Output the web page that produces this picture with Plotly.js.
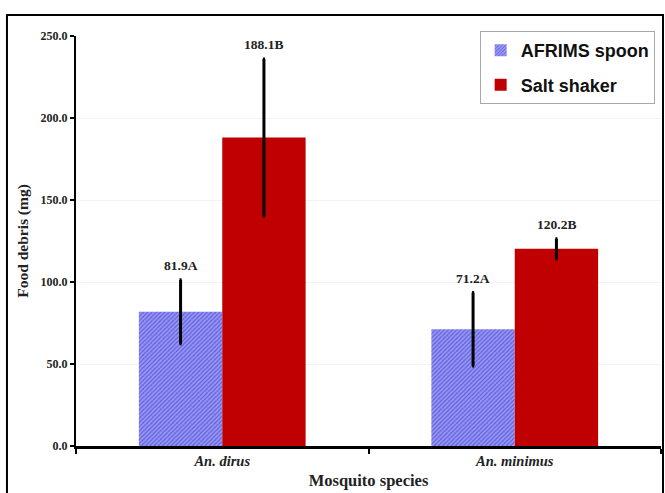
<!DOCTYPE html>
<html>
<head>
<meta charset="utf-8">
<script src="https://cdn.plot.ly/plotly-3.0.1.min.js"></script>
<style>html,body{margin:0;padding:0;background:#fff;}#chart{width:665px;height:493px;}</style>
</head>
<body>
<div id="chart"></div>
<script>
var categories = ["An. dirus", "An. minimus"];
var spoonValues = [81.9, 71.2];
var spoonErrors = [19.5, 22.4];
var spoonLabels = ["81.9A", "71.2A"];
var shakerValues = [188.1, 120.2];
var shakerErrors = [47.8, 6.2];
var shakerLabels = ["188.1B", "120.2B"];
var yTickValues = [0, 50, 100, 150, 200, 250];
var yTickLabels = ["0.0", "50.0", "100.0", "150.0", "200.0", "250.0"];

var serif = "'Liberation Serif', 'Times New Roman', serif";
var tickCats = categories.map(function(c){ return "<i>" + c + "</i>"; });

var traces = [
  {
    type: "bar", name: "AFRIMS spoon", x: categories, y: spoonValues, legendgroup: "a",
    marker: {color: "#8080f0", line: {width: 0},
      pattern: {shape: "/", fgcolor: "#5a5ad6", bgcolor: "#9797f6", size: 3, solidity: 0.35}},
    error_y: {type: "data", array: spoonErrors, visible: true, color: "#000", thickness: 3, width: 1}
  },
  {
    type: "bar", name: "Salt shaker", x: categories, y: shakerValues, legendgroup: "b",
    marker: {color: "#c00000", line: {width: 0}},
    error_y: {type: "data", array: shakerErrors, visible: true, color: "#000", thickness: 3, width: 1}
  }
];

var annotations = [];
function addLabels(labels, values, errors, shift) {
  labels.forEach(function(t, i) {
    annotations.push({
      x: categories[i], y: values[i] + errors[i], xref: "x", yref: "y",
      text: "<b>" + t + "</b>", showarrow: false, yanchor: "bottom", yshift: 5, xshift: shift,
      font: {family: serif, size: 13.5, color: "#222"}
    });
  });
}
addLabels(spoonLabels, spoonValues, spoonErrors, -41.6);
addLabels(shakerLabels, shakerValues, shakerErrors, 41.6);

var layout = {
  width: 665, height: 493,
  margin: {l: 76, r: 4, t: 36, b: 47},
  paper_bgcolor: "#fff", plot_bgcolor: "#fff",
  barmode: "group", bargap: 0.43, bargroupgap: 0,
  showlegend: true,
  legend: {
    x: 0.69, y: 1.012, xanchor: "left", yanchor: "top",
    bordercolor: "#a8a8a8", borderwidth: 1, bgcolor: "#fff",
    font: {family: "'Liberation Sans', Arial, sans-serif", size: 18, color: "#111", weight: "bold"},
    traceorder: "grouped", tracegroupgap: 8, itemwidth: 30
  },
  xaxis: {
    type: "category", range: [-0.5, 1.5],
    tickvals: categories, ticktext: tickCats,
    showline: true, linecolor: "#000", linewidth: 2.5,
    ticks: "outside", tickson: "boundaries", ticklen: 5, tickwidth: 2, tickcolor: "#000",
    tickfont: {family: serif, size: 14.5, color: "#222", weight: "bold"},
    showgrid: false, zeroline: false,
    title: {text: "<b>Mosquito species</b>", font: {family: serif, size: 16.5, color: "#222"}, standoff: 7}
  },
  yaxis: {
    range: [0, 250],
    tickvals: yTickValues, ticktext: yTickLabels,
    showline: true, linecolor: "#000", linewidth: 2,
    ticks: "outside", ticklen: 4, tickwidth: 2, tickcolor: "#000",
    tickfont: {family: serif, size: 12, color: "#222", weight: "bold"},
    showgrid: true, gridcolor: "#f3f3f3", gridwidth: 1, zeroline: false,
    title: {text: "<b>Food debris (mg)</b>", font: {family: serif, size: 15.5, color: "#222"}, standoff: 8}
  },
  annotations: annotations,
  shapes: [{
    type: "rect", xref: "paper", yref: "paper",
    x0: -0.118, x1: 1.0034, y0: -0.2, y1: 1.051,
    line: {color: "#000", width: 2}, fillcolor: "rgba(0,0,0,0)", layer: "above"
  }]
};

Plotly.newPlot("chart", traces, layout, {displayModeBar: false, staticPlot: true});
</script>
</body>
</html>
